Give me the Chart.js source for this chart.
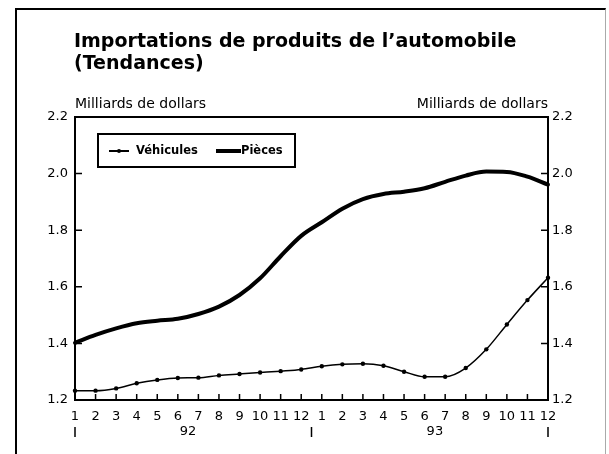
<!DOCTYPE html>
<html>
<head>
<meta charset="utf-8">
<script src="https://cdn.jsdelivr.net/npm/chart.js@4"></script>
<style>
  html, body { margin: 0; padding: 0; background: #fff; }
  body { width: 609px; height: 454px; position: relative; overflow: hidden; font-family: "DejaVu Sans", sans-serif; color: #000; }
  #frame { position: absolute; left: 15px; top: 8px; width: 588px; height: 470px; border-left: 2px solid #000; border-top: 2px solid #000; border-right: 1px solid #aaa; }
  #title { position: absolute; left: 74px; top: 29px; font-size: 19px; font-weight: bold; line-height: 22px; white-space: nowrap; }
  .unit { position: absolute; top: 96px; font-size: 14px; line-height: 14px; white-space: nowrap; }
  #legend { position: absolute; left: 97px; top: 133px; width: 199px; height: 35px; border: 2px solid #000; box-sizing: border-box; font-size: 11.5px; font-weight: bold; }
  .lab { position: absolute; top: 9px; line-height: 13px; }
  .ln { position: absolute; background: #000; }
  .dot { position: absolute; width: 4px; height: 4px; border-radius: 50%; background: #000; }
  canvas { position: absolute; left: 0; top: 0; }
</style>
</head>
<body>
<div id="frame"></div>
<canvas id="chart" width="609" height="454"></canvas>
<div id="title">Importations de produits de l’automobile<br>(Tendances)</div>
<div class="unit" style="left:75px">Milliards de dollars</div>
<div class="unit" style="right:61px">Milliards de dollars</div>
<div id="legend">
  <div class="ln" style="left:10px;top:15px;width:20px;height:1.5px"></div>
  <div class="dot" style="left:18px;top:14px"></div>
  <div class="lab" style="left:37px">Véhicules</div>
  <div class="ln" style="left:117px;top:14px;width:25px;height:4px"></div>
  <div class="lab" style="left:142px">Pièces</div>
</div>
<script>
// months of 1992 and 1993
const months = ['1','2','3','4','5','6','7','8','9','10','11','12',
                '1','2','3','4','5','6','7','8','9','10','11','12'];
const years = ['92', '93'];

// milliards de dollars
const vehicules = [1.233, 1.233, 1.241, 1.259, 1.271, 1.278, 1.279, 1.287, 1.292, 1.297, 1.302, 1.308,
                   1.319, 1.326, 1.328, 1.321, 1.300, 1.282, 1.282, 1.313, 1.379, 1.467, 1.553, 1.632];
const pieces = [1.402, 1.430, 1.453, 1.471, 1.480, 1.487, 1.504, 1.530, 1.571, 1.630, 1.708, 1.780,
                1.828, 1.876, 1.910, 1.928, 1.936, 1.948, 1.971, 1.993, 2.007, 2.006, 1.989, 1.961];

const yMin = 1.2, yMax = 2.2, yStep = 0.2;

// box around plot, inward ticks, year labels under the months
const decorations = {
  id: 'decorations',
  afterDraw(chart) {
    const { ctx, chartArea: a, scales } = chart;
    ctx.save();
    ctx.strokeStyle = '#000';
    ctx.lineWidth = 2;
    ctx.strokeRect(a.left, a.top, a.right - a.left, a.bottom - a.top);

    ctx.lineWidth = 1.5;
    ctx.beginPath();
    scales.x.ticks.forEach((t, i) => {
      const x = scales.x.getPixelForTick(i);
      ctx.moveTo(x, a.bottom);
      ctx.lineTo(x, a.bottom - 6);
    });
    scales.y.ticks.forEach((t, i) => {
      const y = scales.y.getPixelForTick(i);
      ctx.moveTo(a.left, y);
      ctx.lineTo(a.left + 7, y);
    });
    scales.y2.ticks.forEach((t, i) => {
      const y = scales.y2.getPixelForTick(i);
      ctx.moveTo(a.right, y);
      ctx.lineTo(a.right - 7, y);
    });

    // separators: start, between years, end
    const n = months.length;
    const per = n / years.length;
    const seps = [0];
    for (let i = 1; i < years.length; i++) seps.push(i * per - 0.5);
    seps.push(n - 1);
    seps.forEach(v => {
      const x = scales.x.getPixelForValue(v);
      ctx.moveTo(x, 427);
      ctx.lineTo(x, 437);
    });
    ctx.stroke();

    ctx.fillStyle = '#000';
    ctx.font = '13px "DejaVu Sans"';
    ctx.textAlign = 'center';
    ctx.textBaseline = 'middle';
    years.forEach((yr, i) => {
      const x = scales.x.getPixelForValue(i * per + (per - 1) / 2);
      ctx.fillText(yr, x, 432);
    });
    ctx.restore();
  }
};

const tickFont = { family: 'DejaVu Sans', size: 13 };

new Chart(document.getElementById('chart'), {
  type: 'line',
  data: {
    labels: months,
    datasets: [
      {
        label: 'Véhicules',
        data: vehicules,
        borderColor: '#000',
        backgroundColor: '#000',
        borderWidth: 1.5,
        pointRadius: 2.2,
        pointBackgroundColor: '#000',
        pointBorderWidth: 0,
        cubicInterpolationMode: 'monotone',
        clip: false,
      },
      {
        label: 'Pièces',
        data: pieces,
        borderColor: '#000',
        borderWidth: 4,
        pointRadius: 0,
        cubicInterpolationMode: 'monotone',
        borderCapStyle: 'round',
        clip: false,
      },
    ],
  },
  options: {
    responsive: false,
    animation: false,
    layout: { padding: { top: 117, left: 0, right: 0, bottom: 0 } },
    plugins: {
      legend: { display: false },
      tooltip: { enabled: false },
    },
    scales: {
      x: {
        grid: { display: false, drawTicks: false },
        border: { display: false },
        ticks: { autoSkip: false, maxRotation: 0, padding: 9, color: '#000', font: tickFont },
        afterFit: s => { s.height = 54; },
      },
      y: {
        position: 'left',
        min: yMin, max: yMax,
        grid: { display: false, drawTicks: false },
        border: { display: false },
        ticks: { stepSize: yStep, padding: 7, color: '#000', font: tickFont, callback: v => v.toFixed(1) },
        afterFit: s => { s.width = 75; },
      },
      y2: {
        position: 'right',
        min: yMin, max: yMax,
        grid: { display: false, drawTicks: false },
        border: { display: false },
        ticks: { stepSize: yStep, padding: 4, color: '#000', font: tickFont, callback: v => v.toFixed(1) },
        afterFit: s => { s.width = 61; },
      },
    },
  },
  plugins: [decorations],
});
</script>
</body>
</html>
